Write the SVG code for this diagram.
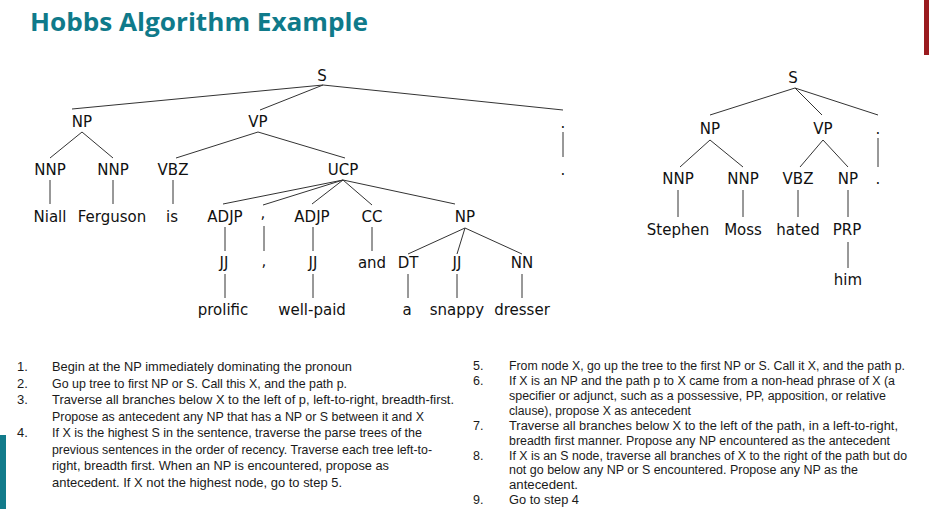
<svg xmlns="http://www.w3.org/2000/svg" width="929" height="509" viewBox="0 0 929 509">
<style>
.t{font-family:"DejaVu Sans","Liberation Sans",sans-serif;font-size:15px;fill:#111;text-anchor:middle}
.ln{stroke:#333;stroke-width:1;fill:none}
.title{font-family:"Open Sans","Liberation Sans",sans-serif;font-weight:bold;font-size:25px;fill:#0F7A8A}
.b{font-family:"Liberation Sans",Arial,sans-serif;font-size:13px;fill:#1a1a1a}
.b2{font-family:"Liberation Sans",Arial,sans-serif;font-size:12.5px;fill:#1a1a1a}
</style>
<rect x="0" y="0" width="929" height="509" fill="#fff"/>
<rect x="924" y="0" width="5" height="55" fill="#9A1B1F"/>
<rect x="0" y="435" width="6" height="74" fill="#127B8B"/>
<text class="title" x="30" y="31" textLength="338" lengthAdjust="spacingAndGlyphs">Hobbs Algorithm Example</text>

<g id="connectors" class="ln">
<line x1="323" y1="85" x2="72" y2="109"/>
<line x1="323" y1="85" x2="260" y2="110"/>
<line x1="323" y1="85" x2="563" y2="110"/>
<line x1="563" y1="132" x2="563" y2="157"/>
<line x1="82" y1="132" x2="50" y2="158"/>
<line x1="82" y1="132" x2="113" y2="158"/>
<line x1="258" y1="132" x2="176" y2="158"/>
<line x1="258" y1="132" x2="345" y2="158"/>
<line x1="50" y1="180" x2="50" y2="204"/>
<line x1="113" y1="180" x2="113" y2="204"/>
<line x1="173" y1="180" x2="173" y2="204"/>
<line x1="343" y1="180" x2="223" y2="204"/>
<line x1="343" y1="180" x2="263" y2="205"/>
<line x1="343" y1="180" x2="312" y2="204"/>
<line x1="343" y1="180" x2="372" y2="205"/>
<line x1="343" y1="180" x2="455" y2="204"/>
<line x1="225" y1="227" x2="225" y2="251"/>
<line x1="264" y1="226" x2="264" y2="251"/>
<line x1="313" y1="227" x2="313" y2="251"/>
<line x1="372" y1="227" x2="372" y2="251"/>
<line x1="465" y1="228" x2="408" y2="254"/>
<line x1="465" y1="228" x2="457" y2="254"/>
<line x1="465" y1="228" x2="522" y2="254"/>
<line x1="225" y1="274" x2="225" y2="298"/>
<line x1="313" y1="274" x2="313" y2="298"/>
<line x1="408" y1="274" x2="408" y2="298"/>
<line x1="457" y1="274" x2="457" y2="298"/>
<line x1="522" y1="274" x2="522" y2="298"/>
<line x1="795" y1="88" x2="710" y2="115"/>
<line x1="795" y1="88" x2="822" y2="115"/>
<line x1="795" y1="88" x2="878" y2="115"/>
<line x1="710" y1="140" x2="680" y2="167"/>
<line x1="710" y1="140" x2="743" y2="167"/>
<line x1="823" y1="140" x2="800" y2="167"/>
<line x1="823" y1="140" x2="848" y2="167"/>
<line x1="878" y1="138" x2="878" y2="167"/>
<line x1="678" y1="190" x2="678" y2="217"/>
<line x1="743" y1="190" x2="743" y2="217"/>
<line x1="798" y1="190" x2="798" y2="217"/>
<line x1="848" y1="190" x2="848" y2="217"/>
<line x1="848" y1="242" x2="848" y2="268"/>
</g>

<g id="L_S"><text class="t" x="322" y="81">S</text></g>
<g id="L_NP"><text class="t" x="82" y="127">NP</text></g>
<g id="L_VP"><text class="t" x="258" y="127">VP</text></g>
<g id="L_dot1"><text class="t" x="563" y="128">.</text></g>
<g id="L_NNP1"><text class="t" x="50" y="175">NNP</text></g>
<g id="L_NNP2"><text class="t" x="113" y="175">NNP</text></g>
<g id="L_VBZ"><text class="t" x="173" y="175">VBZ</text></g>
<g id="L_UCP"><text class="t" x="343" y="175">UCP</text></g>
<g id="L_dot2"><text class="t" x="563" y="175">.</text></g>
<g id="L_Niall"><text class="t" x="50" y="222">Niall</text></g>
<g id="L_Ferguson"><text class="t" x="112" y="222">Ferguson</text></g>
<g id="L_is"><text class="t" x="172" y="222">is</text></g>
<g id="L_ADJP1"><text class="t" x="225" y="222">ADJP</text></g>
<g id="L_comma1"><text class="t" x="263" y="218">,</text></g>
<g id="L_ADJP2"><text class="t" x="312" y="222">ADJP</text></g>
<g id="L_CC"><text class="t" x="372" y="222">CC</text></g>
<g id="L_NP2"><text class="t" x="465" y="222">NP</text></g>
<g id="L_JJ1"><text class="t" x="224" y="268">JJ</text></g>
<g id="L_comma2"><text class="t" x="264" y="266">,</text></g>
<g id="L_JJ2"><text class="t" x="313" y="268">JJ</text></g>
<g id="L_and"><text class="t" x="372" y="268">and</text></g>
<g id="L_DT"><text class="t" x="408" y="268">DT</text></g>
<g id="L_JJ3"><text class="t" x="457" y="268">JJ</text></g>
<g id="L_NN"><text class="t" x="522" y="268">NN</text></g>
<g id="L_prolific"><text class="t" x="223" y="315">prolific</text></g>
<g id="L_wellpaid"><text class="t" x="312" y="315">well-paid</text></g>
<g id="L_a"><text class="t" x="407" y="315">a</text></g>
<g id="L_snappy"><text class="t" x="457" y="315">snappy</text></g>
<g id="L_dresser"><text class="t" x="522" y="315">dresser</text></g>

<g id="R_S"><text class="t" x="793" y="83">S</text></g>
<g id="R_NP"><text class="t" x="710" y="134">NP</text></g>
<g id="R_VP"><text class="t" x="823" y="134">VP</text></g>
<g id="R_dot1"><text class="t" x="878" y="134">.</text></g>
<g id="R_NNP1"><text class="t" x="678" y="184">NNP</text></g>
<g id="R_NNP2"><text class="t" x="743" y="184">NNP</text></g>
<g id="R_VBZ"><text class="t" x="798" y="184">VBZ</text></g>
<g id="R_NP2"><text class="t" x="848" y="184">NP</text></g>
<g id="R_dot2"><text class="t" x="878" y="184">.</text></g>
<g id="R_Stephen"><text class="t" x="678" y="235">Stephen</text></g>
<g id="R_Moss"><text class="t" x="743" y="235">Moss</text></g>
<g id="R_hated"><text class="t" x="798" y="235">hated</text></g>
<g id="R_PRP"><text class="t" x="847" y="235">PRP</text></g>
<g id="R_him"><text class="t" x="848" y="285">him</text></g>

<g id="steps_left" class="b" xml:space="preserve">
<text x="17" y="371">1.</text><text x="52" y="371" textLength="300" lengthAdjust="spacingAndGlyphs">Begin at the NP immediately dominating the pronoun</text>
<text x="17" y="387.5">2.</text><text x="52" y="387.5" textLength="295" lengthAdjust="spacingAndGlyphs">Go up tree to first NP or S.  Call this X, and the path p.</text>
<text x="17" y="404">3.</text><text x="52" y="404" textLength="402" lengthAdjust="spacingAndGlyphs">Traverse all branches below X to the left of p, left-to-right, breadth-first.</text>
<text x="52" y="420.5" textLength="372" lengthAdjust="spacingAndGlyphs">Propose as antecedent any NP that has a NP or S between it and X</text>
<text x="17" y="437">4.</text><text x="52" y="437" textLength="370" lengthAdjust="spacingAndGlyphs">If X is the highest S in the sentence, traverse the parse trees of the</text>
<text x="52" y="453.5" textLength="380" lengthAdjust="spacingAndGlyphs">previous sentences in the order of recency.  Traverse each tree left-to-</text>
<text x="52" y="470" textLength="337" lengthAdjust="spacingAndGlyphs">right, breadth first.  When an NP is encountered, propose as</text>
<text x="52" y="486.5" textLength="290" lengthAdjust="spacingAndGlyphs">antecedent.  If X not the highest node, go to step 5.</text>
</g>
<g id="steps_right" class="b2" xml:space="preserve">
<text x="473" y="370">5.</text><text x="509" y="370" textLength="396" lengthAdjust="spacingAndGlyphs">From node X, go up the tree to the first NP or S.  Call it X, and the path p.</text>
<text x="473" y="385">6.</text><text x="509" y="385" textLength="386" lengthAdjust="spacingAndGlyphs">If X is an NP and the path p to X came from a non-head phrase of X (a</text>
<text x="509" y="400" textLength="377" lengthAdjust="spacingAndGlyphs">specifier or adjunct, such as a possessive, PP, apposition, or relative</text>
<text x="509" y="415" textLength="182" lengthAdjust="spacingAndGlyphs">clause), propose X as antecedent</text>
<text x="473" y="430">7.</text><text x="509" y="430" textLength="389" lengthAdjust="spacingAndGlyphs">Traverse all branches below X to the left of the path, in a left-to-right,</text>
<text x="509" y="444.5" textLength="381" lengthAdjust="spacingAndGlyphs">breadth first manner.  Propose any NP encountered as the antecedent</text>
<text x="473" y="459.5">8.</text><text x="509" y="459.5" textLength="398" lengthAdjust="spacingAndGlyphs">If X is an S node, traverse all branches of X to the right of the path  but do</text>
<text x="509" y="474" textLength="349" lengthAdjust="spacingAndGlyphs">not go below any NP or S encountered.  Propose any NP as the</text>
<text x="509" y="489" textLength="69" lengthAdjust="spacingAndGlyphs">antecedent.</text>
<text x="473" y="504">9.</text><text x="509" y="504" textLength="70" lengthAdjust="spacingAndGlyphs">Go to step 4</text>
</g>
</svg>
